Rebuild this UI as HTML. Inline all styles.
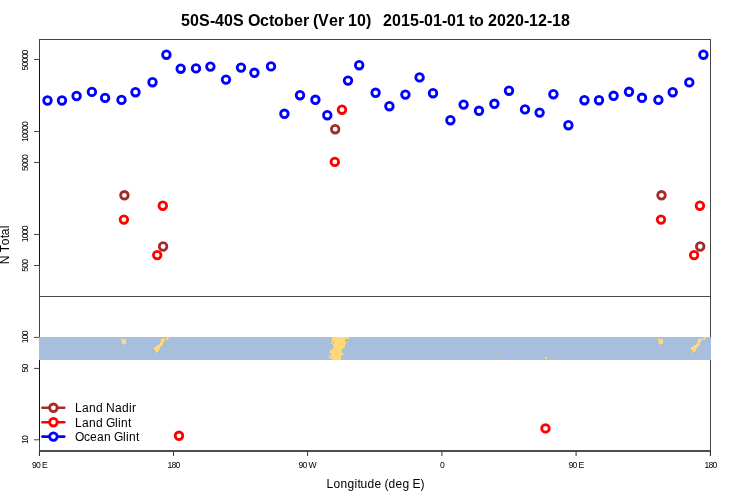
<!DOCTYPE html>
<html><head><meta charset="utf-8"><style>
html,body{margin:0;padding:0;background:#fff;width:750px;height:500px;overflow:hidden}
#w{position:absolute;left:0;top:0;width:750px;height:500px;will-change:transform}
svg{display:block}
</style></head><body><div id="w">
<svg width="750" height="500" viewBox="0 0 750 500">
<rect width="750" height="500" fill="#fff"/>
<text y="25.6" font-size="16" font-weight="bold" font-family="'Liberation Sans', sans-serif"><tspan x="181.10">5</tspan><tspan x="190.10">0</tspan><tspan x="199.10">S</tspan><tspan x="210.10">-</tspan><tspan x="215.10">4</tspan><tspan x="224.10">0</tspan><tspan x="233.10">S</tspan><tspan x="248.10">O</tspan><tspan x="260.10">c</tspan><tspan x="269.10">t</tspan><tspan x="274.10">o</tspan><tspan x="284.10">b</tspan><tspan x="294.10">e</tspan><tspan x="303.10">r</tspan><tspan x="313.10">(</tspan><tspan x="318.10">V</tspan><tspan x="329.10">e</tspan><tspan x="338.10">r</tspan><tspan x="348.10">1</tspan><tspan x="357.10">0</tspan><tspan x="366.10">)</tspan><tspan x="383.10">2</tspan><tspan x="392.10">0</tspan><tspan x="401.10">1</tspan><tspan x="410.10">5</tspan><tspan x="419.10">-</tspan><tspan x="424.10">0</tspan><tspan x="433.10">1</tspan><tspan x="442.10">-</tspan><tspan x="447.10">0</tspan><tspan x="456.10">1</tspan><tspan x="469.10">t</tspan><tspan x="474.10">o</tspan><tspan x="488.10">2</tspan><tspan x="497.10">0</tspan><tspan x="506.10">2</tspan><tspan x="515.10">0</tspan><tspan x="524.10">-</tspan><tspan x="529.10">1</tspan><tspan x="538.10">2</tspan><tspan x="547.10">-</tspan><tspan x="552.10">1</tspan><tspan x="561.10">8</tspan></text><g fill="none" stroke-width="1"><line x1="39" y1="39.5" x2="711" y2="39.5" stroke="#444"/><line x1="710.5" y1="39" x2="710.5" y2="456" stroke="#444"/><line x1="39.5" y1="39" x2="39.5" y2="456" stroke="#444"/><line x1="39.5" y1="59.5" x2="39.5" y2="265.5" stroke="#000" stroke-opacity="0.75"/><line x1="39.5" y1="337.4" x2="39.5" y2="439.8" stroke="#000" stroke-opacity="0.75"/><line x1="39" y1="296.5" x2="711" y2="296.5" stroke="#4a4a4a"/><line x1="39" y1="451" x2="711" y2="451" stroke="#4d4d4d" stroke-width="2"/><line x1="34" y1="59.5" x2="39.5" y2="59.5" stroke="#444"/><line x1="34" y1="131.5" x2="39.5" y2="131.5" stroke="#444"/><line x1="34" y1="162.5" x2="39.5" y2="162.5" stroke="#444"/><line x1="34" y1="234.5" x2="39.5" y2="234.5" stroke="#444"/><line x1="34" y1="265.5" x2="39.5" y2="265.5" stroke="#444"/><line x1="34" y1="337.4" x2="39.5" y2="337.4" stroke="#444"/><line x1="34" y1="368.4" x2="39.5" y2="368.4" stroke="#444"/><line x1="34" y1="439.8" x2="39.5" y2="439.8" stroke="#444"/><line x1="39.4" y1="451" x2="39.4" y2="456" stroke="#333"/><line x1="173.5" y1="451" x2="173.5" y2="456" stroke="#333"/><line x1="307.6" y1="451" x2="307.6" y2="456" stroke="#333"/><line x1="441.9" y1="451" x2="441.9" y2="456" stroke="#333"/><line x1="576.1" y1="451" x2="576.1" y2="456" stroke="#333"/><line x1="710.4" y1="451" x2="710.4" y2="456" stroke="#333"/></g><text y="0" font-size="8.6" font-family="'Liberation Sans', sans-serif" transform="translate(28.1,60.4) rotate(-90)"><tspan x="-10.00">5</tspan><tspan x="-6.00">0</tspan><tspan x="-2.00">0</tspan><tspan x="2.00">0</tspan><tspan x="6.00">0</tspan></text><text y="0" font-size="8.6" font-family="'Liberation Sans', sans-serif" transform="translate(28.1,131.9) rotate(-90)"><tspan x="-10.00">1</tspan><tspan x="-6.00">0</tspan><tspan x="-2.00">0</tspan><tspan x="2.00">0</tspan><tspan x="6.00">0</tspan></text><text y="0" font-size="8.6" font-family="'Liberation Sans', sans-serif" transform="translate(28.1,162.9) rotate(-90)"><tspan x="-8.00">5</tspan><tspan x="-4.00">0</tspan><tspan x="0.00">0</tspan><tspan x="4.00">0</tspan></text><text y="0" font-size="8.6" font-family="'Liberation Sans', sans-serif" transform="translate(28.1,234.3) rotate(-90)"><tspan x="-8.00">1</tspan><tspan x="-4.00">0</tspan><tspan x="0.00">0</tspan><tspan x="4.00">0</tspan></text><text y="0" font-size="8.6" font-family="'Liberation Sans', sans-serif" transform="translate(28.1,265.7) rotate(-90)"><tspan x="-6.00">5</tspan><tspan x="-2.00">0</tspan><tspan x="2.00">0</tspan></text><text y="0" font-size="8.6" font-family="'Liberation Sans', sans-serif" transform="translate(28.1,337.2) rotate(-90)"><tspan x="-6.00">1</tspan><tspan x="-2.00">0</tspan><tspan x="2.00">0</tspan></text><text y="0" font-size="8.6" font-family="'Liberation Sans', sans-serif" transform="translate(28.1,368.59999999999997) rotate(-90)"><tspan x="-4.00">5</tspan><tspan x="0.00">0</tspan></text><text y="0" font-size="8.6" font-family="'Liberation Sans', sans-serif" transform="translate(28.1,440.1) rotate(-90)"><tspan x="-4.00">1</tspan><tspan x="0.00">0</tspan></text><text y="467.8" font-size="8.6" font-family="'Liberation Sans', sans-serif"><tspan x="31.90">9</tspan><tspan x="35.90">0</tspan><tspan x="41.90">E</tspan></text><text y="467.8" font-size="8.6" font-family="'Liberation Sans', sans-serif"><tspan x="167.50">1</tspan><tspan x="171.50">8</tspan><tspan x="175.50">0</tspan></text><text y="467.8" font-size="8.6" font-family="'Liberation Sans', sans-serif"><tspan x="298.60">9</tspan><tspan x="302.60">0</tspan><tspan x="308.60">W</tspan></text><text y="467.8" font-size="8.6" font-family="'Liberation Sans', sans-serif"><tspan x="439.90">0</tspan></text><text y="467.8" font-size="8.6" font-family="'Liberation Sans', sans-serif"><tspan x="568.60">9</tspan><tspan x="572.60">0</tspan><tspan x="578.60">E</tspan></text><text y="467.8" font-size="8.6" font-family="'Liberation Sans', sans-serif"><tspan x="704.40">1</tspan><tspan x="708.40">8</tspan><tspan x="712.40">0</tspan></text><text y="0" font-size="12" font-family="'Liberation Sans', sans-serif" transform="translate(9,244.7) rotate(-90)"><tspan x="-19.50">N</tspan><tspan x="-7.50">T</tspan><tspan x="-0.50">o</tspan><tspan x="6.50">t</tspan><tspan x="9.50">a</tspan><tspan x="16.50">l</tspan></text><text y="488" font-size="12" font-family="'Liberation Sans', sans-serif"><tspan x="326.50">L</tspan><tspan x="333.50">o</tspan><tspan x="340.50">n</tspan><tspan x="347.50">g</tspan><tspan x="354.50">i</tspan><tspan x="357.50">t</tspan><tspan x="360.50">u</tspan><tspan x="367.50">d</tspan><tspan x="374.50">e</tspan><tspan x="384.50">(</tspan><tspan x="388.50">d</tspan><tspan x="395.50">e</tspan><tspan x="402.50">g</tspan><tspan x="412.50">E</tspan><tspan x="420.50">)</tspan></text><rect x="39" y="337" width="672" height="23" fill="#A7BEDC"/><g fill="#FFD977"><rect x="332" y="337" width="17" height="1"/><rect x="332" y="338" width="17" height="1"/><rect x="332" y="339" width="13" height="1"/><rect x="332" y="340" width="13" height="1"/><rect x="332" y="341" width="1" height="1"/><rect x="334" y="341" width="11" height="1"/><rect x="331" y="342" width="2" height="1"/><rect x="334" y="342" width="13" height="1"/><rect x="331" y="343" width="2" height="1"/><rect x="334" y="343" width="12" height="1"/><rect x="333" y="344" width="12" height="1"/><rect x="333" y="345" width="12" height="1"/><rect x="333" y="346" width="12" height="1"/><rect x="331" y="347" width="1" height="1"/><rect x="334" y="347" width="10" height="1"/><rect x="333" y="348" width="10" height="1"/><rect x="332" y="349" width="10" height="1"/><rect x="330" y="350" width="11" height="1"/><rect x="330" y="351" width="12" height="1"/><rect x="329" y="352" width="13" height="1"/><rect x="331" y="353" width="13" height="1"/><rect x="331" y="354" width="12" height="1"/><rect x="329" y="355" width="13" height="1"/><rect x="329" y="356" width="1" height="1"/><rect x="331" y="356" width="10" height="1"/><rect x="329" y="357" width="12" height="1"/><rect x="330" y="358" width="1" height="1"/><rect x="332" y="358" width="9" height="1"/><rect x="332" y="359" width="9" height="1"/><rect x="121" y="338" width="1" height="1"/><rect x="121" y="339" width="5" height="1"/><rect x="121" y="340" width="5" height="1"/><rect x="122" y="341" width="4" height="1"/><rect x="122" y="342" width="4" height="1"/><rect x="122" y="343" width="4" height="1"/><rect x="123" y="344" width="1" height="1"/><rect x="167" y="337" width="2" height="1"/><rect x="162" y="338" width="1" height="1"/><rect x="164" y="338" width="1" height="1"/><rect x="166" y="338" width="2.5" height="1"/><rect x="161" y="339" width="4" height="1"/><rect x="166" y="339" width="2" height="1"/><rect x="161" y="340" width="4" height="1"/><rect x="161" y="341" width="3" height="1"/><rect x="160" y="342" width="3" height="1"/><rect x="160" y="343" width="3" height="1"/><rect x="159" y="344" width="4" height="1"/><rect x="157" y="345" width="5" height="1"/><rect x="156" y="346" width="5" height="1"/><rect x="154" y="347" width="6" height="1"/><rect x="154" y="348" width="6" height="1"/><rect x="154" y="349" width="5" height="1"/><rect x="155" y="350" width="4" height="1"/><rect x="156" y="351" width="2" height="1"/><rect x="155" y="352" width="1" height="1"/><rect x="658" y="338" width="1" height="1"/><rect x="658" y="339" width="5" height="1"/><rect x="658" y="340" width="5" height="1"/><rect x="659" y="341" width="4" height="1"/><rect x="659" y="342" width="4" height="1"/><rect x="659" y="343" width="4" height="1"/><rect x="660" y="344" width="1" height="1"/><rect x="704" y="337" width="2" height="1"/><rect x="699" y="338" width="1" height="1"/><rect x="701" y="338" width="1" height="1"/><rect x="703" y="338" width="2.5" height="1"/><rect x="698" y="339" width="4" height="1"/><rect x="703" y="339" width="2" height="1"/><rect x="698" y="340" width="4" height="1"/><rect x="698" y="341" width="3" height="1"/><rect x="697" y="342" width="3" height="1"/><rect x="697" y="343" width="3" height="1"/><rect x="696" y="344" width="4" height="1"/><rect x="694" y="345" width="5" height="1"/><rect x="693" y="346" width="5" height="1"/><rect x="691" y="347" width="6" height="1"/><rect x="691" y="348" width="6" height="1"/><rect x="691" y="349" width="5" height="1"/><rect x="692" y="350" width="4" height="1"/><rect x="693" y="351" width="2" height="1"/><rect x="692" y="352" width="1" height="1"/><rect x="498" y="352" width="1" height="1" fill-opacity="0.75"/><rect x="545" y="357" width="2" height="2"/></g><circle cx="124.4" cy="195.30" r="3.8" fill="none" stroke="#A52A2A" stroke-width="2.8"/><circle cx="163.1" cy="246.50" r="3.8" fill="none" stroke="#A52A2A" stroke-width="2.8"/><circle cx="661.5" cy="195.30" r="3.8" fill="none" stroke="#A52A2A" stroke-width="2.8"/><circle cx="700.2" cy="246.50" r="3.8" fill="none" stroke="#A52A2A" stroke-width="2.8"/><circle cx="335.2" cy="129.20" r="3.8" fill="none" stroke="#A52A2A" stroke-width="2.8"/><circle cx="123.9" cy="219.60" r="3.8" fill="none" stroke="#FF0000" stroke-width="2.8"/><circle cx="162.8" cy="205.70" r="3.8" fill="none" stroke="#FF0000" stroke-width="2.8"/><circle cx="157.2" cy="255.10" r="3.8" fill="none" stroke="#FF0000" stroke-width="2.8"/><circle cx="661" cy="219.60" r="3.8" fill="none" stroke="#FF0000" stroke-width="2.8"/><circle cx="699.9" cy="205.70" r="3.8" fill="none" stroke="#FF0000" stroke-width="2.8"/><circle cx="694.1" cy="255.10" r="3.8" fill="none" stroke="#FF0000" stroke-width="2.8"/><circle cx="342" cy="109.70" r="3.8" fill="none" stroke="#FF0000" stroke-width="2.8"/><circle cx="334.8" cy="161.90" r="3.8" fill="none" stroke="#FF0000" stroke-width="2.8"/><circle cx="179" cy="435.80" r="3.8" fill="none" stroke="#FF0000" stroke-width="2.8"/><circle cx="545.5" cy="428.40" r="3.8" fill="none" stroke="#FF0000" stroke-width="2.8"/><circle cx="47.5" cy="100.50" r="3.8" fill="none" stroke="#0000FF" stroke-width="2.8"/><circle cx="62" cy="100.50" r="3.8" fill="none" stroke="#0000FF" stroke-width="2.8"/><circle cx="76.6" cy="96.00" r="3.8" fill="none" stroke="#0000FF" stroke-width="2.8"/><circle cx="91.9" cy="91.90" r="3.8" fill="none" stroke="#0000FF" stroke-width="2.8"/><circle cx="105.1" cy="97.90" r="3.8" fill="none" stroke="#0000FF" stroke-width="2.8"/><circle cx="121.5" cy="99.90" r="3.8" fill="none" stroke="#0000FF" stroke-width="2.8"/><circle cx="135.5" cy="92.20" r="3.8" fill="none" stroke="#0000FF" stroke-width="2.8"/><circle cx="152.5" cy="82.20" r="3.8" fill="none" stroke="#0000FF" stroke-width="2.8"/><circle cx="166.4" cy="54.70" r="3.8" fill="none" stroke="#0000FF" stroke-width="2.8"/><circle cx="180.7" cy="68.70" r="3.8" fill="none" stroke="#0000FF" stroke-width="2.8"/><circle cx="196" cy="68.40" r="3.8" fill="none" stroke="#0000FF" stroke-width="2.8"/><circle cx="210.4" cy="66.60" r="3.8" fill="none" stroke="#0000FF" stroke-width="2.8"/><circle cx="226" cy="79.60" r="3.8" fill="none" stroke="#0000FF" stroke-width="2.8"/><circle cx="241" cy="67.60" r="3.8" fill="none" stroke="#0000FF" stroke-width="2.8"/><circle cx="254.4" cy="72.80" r="3.8" fill="none" stroke="#0000FF" stroke-width="2.8"/><circle cx="271" cy="66.40" r="3.8" fill="none" stroke="#0000FF" stroke-width="2.8"/><circle cx="284.4" cy="113.80" r="3.8" fill="none" stroke="#0000FF" stroke-width="2.8"/><circle cx="300" cy="95.20" r="3.8" fill="none" stroke="#0000FF" stroke-width="2.8"/><circle cx="315.4" cy="99.80" r="3.8" fill="none" stroke="#0000FF" stroke-width="2.8"/><circle cx="327.3" cy="115.20" r="3.8" fill="none" stroke="#0000FF" stroke-width="2.8"/><circle cx="348" cy="80.60" r="3.8" fill="none" stroke="#0000FF" stroke-width="2.8"/><circle cx="359.2" cy="65.20" r="3.8" fill="none" stroke="#0000FF" stroke-width="2.8"/><circle cx="375.6" cy="92.80" r="3.8" fill="none" stroke="#0000FF" stroke-width="2.8"/><circle cx="389.4" cy="106.20" r="3.8" fill="none" stroke="#0000FF" stroke-width="2.8"/><circle cx="405.4" cy="94.60" r="3.8" fill="none" stroke="#0000FF" stroke-width="2.8"/><circle cx="419.6" cy="77.40" r="3.8" fill="none" stroke="#0000FF" stroke-width="2.8"/><circle cx="433" cy="93.20" r="3.8" fill="none" stroke="#0000FF" stroke-width="2.8"/><circle cx="450.4" cy="120.20" r="3.8" fill="none" stroke="#0000FF" stroke-width="2.8"/><circle cx="463.6" cy="104.60" r="3.8" fill="none" stroke="#0000FF" stroke-width="2.8"/><circle cx="479" cy="110.80" r="3.8" fill="none" stroke="#0000FF" stroke-width="2.8"/><circle cx="494.4" cy="103.80" r="3.8" fill="none" stroke="#0000FF" stroke-width="2.8"/><circle cx="509" cy="90.70" r="3.8" fill="none" stroke="#0000FF" stroke-width="2.8"/><circle cx="525" cy="109.40" r="3.8" fill="none" stroke="#0000FF" stroke-width="2.8"/><circle cx="539.6" cy="112.60" r="3.8" fill="none" stroke="#0000FF" stroke-width="2.8"/><circle cx="553.4" cy="94.20" r="3.8" fill="none" stroke="#0000FF" stroke-width="2.8"/><circle cx="568.4" cy="125.20" r="3.8" fill="none" stroke="#0000FF" stroke-width="2.8"/><circle cx="584.4" cy="100.20" r="3.8" fill="none" stroke="#0000FF" stroke-width="2.8"/><circle cx="599" cy="100.20" r="3.8" fill="none" stroke="#0000FF" stroke-width="2.8"/><circle cx="613.6" cy="95.80" r="3.8" fill="none" stroke="#0000FF" stroke-width="2.8"/><circle cx="629" cy="91.80" r="3.8" fill="none" stroke="#0000FF" stroke-width="2.8"/><circle cx="642" cy="97.80" r="3.8" fill="none" stroke="#0000FF" stroke-width="2.8"/><circle cx="658.4" cy="99.90" r="3.8" fill="none" stroke="#0000FF" stroke-width="2.8"/><circle cx="672.7" cy="92.20" r="3.8" fill="none" stroke="#0000FF" stroke-width="2.8"/><circle cx="689.3" cy="82.40" r="3.8" fill="none" stroke="#0000FF" stroke-width="2.8"/><circle cx="703.4" cy="54.70" r="3.8" fill="none" stroke="#0000FF" stroke-width="2.8"/><line x1="42.4" y1="407.8" x2="64.3" y2="407.8" stroke="#A52A2A" stroke-width="2.6" stroke-linecap="round"/><circle cx="53.4" cy="407.8" r="3.8" fill="#fff" stroke="#A52A2A" stroke-width="2.8"/><text y="412.0" font-size="12" font-family="'Liberation Sans', sans-serif"><tspan x="74.90">L</tspan><tspan x="81.90">a</tspan><tspan x="88.90">n</tspan><tspan x="95.90">d</tspan><tspan x="105.90">N</tspan><tspan x="114.90">a</tspan><tspan x="121.90">d</tspan><tspan x="128.90">i</tspan><tspan x="131.90">r</tspan></text><line x1="42.4" y1="422.2" x2="64.3" y2="422.2" stroke="#FF0000" stroke-width="2.6" stroke-linecap="round"/><circle cx="53.4" cy="422.2" r="3.8" fill="#fff" stroke="#FF0000" stroke-width="2.8"/><text y="427.3" font-size="12" font-family="'Liberation Sans', sans-serif"><tspan x="74.90">L</tspan><tspan x="81.90">a</tspan><tspan x="88.90">n</tspan><tspan x="95.90">d</tspan><tspan x="105.90">G</tspan><tspan x="114.90">l</tspan><tspan x="117.90">i</tspan><tspan x="120.90">n</tspan><tspan x="127.90">t</tspan></text><line x1="42.4" y1="436.6" x2="64.3" y2="436.6" stroke="#0000FF" stroke-width="2.6" stroke-linecap="round"/><circle cx="53.4" cy="436.6" r="3.8" fill="#fff" stroke="#0000FF" stroke-width="2.8"/><text y="440.8" font-size="12" font-family="'Liberation Sans', sans-serif"><tspan x="74.90">O</tspan><tspan x="83.90">c</tspan><tspan x="89.90">e</tspan><tspan x="96.90">a</tspan><tspan x="103.90">n</tspan><tspan x="113.90">G</tspan><tspan x="122.90">l</tspan><tspan x="125.90">i</tspan><tspan x="128.90">n</tspan><tspan x="135.90">t</tspan></text>
</svg></div>
</body></html>
